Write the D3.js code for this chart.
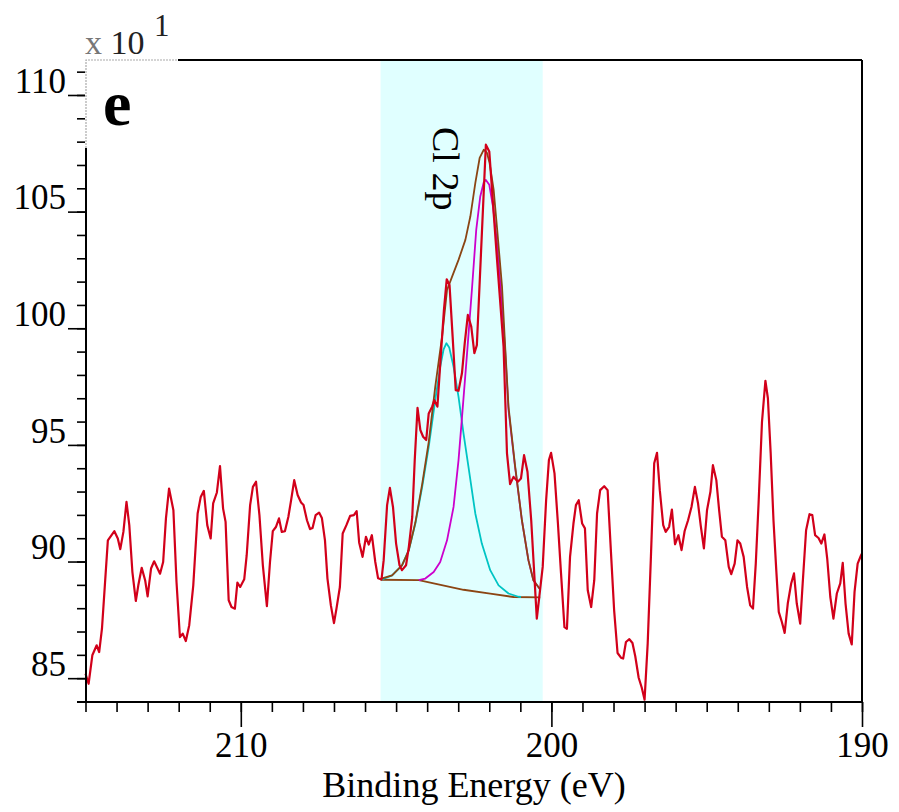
<!DOCTYPE html>
<html>
<head>
<meta charset="utf-8">
<script src="https://cdn.jsdelivr.net/npm/d3@7"></script>
<style>
  body { margin: 0; background: #fff; }
  svg { display: block; }
  text { font-family: "Liberation Serif", "Times New Roman", serif; }
</style>
</head>
<body>
<div id="chart"></div>
<script>
// measured spectrum (binding energy in eV, counts x 10)
const spectrumBE = [215.00,214.90,214.78,214.64,214.56,214.47,214.37,214.28,214.07,213.96,213.88,213.78,213.68,213.59,213.49,213.38,213.30,213.19,213.08,213.00,212.89,212.79,212.60,212.50,212.41,212.31,212.17,212.07,211.96,211.87,211.77,211.66,211.53,211.39,211.29,211.19,211.08,210.97,210.89,210.77,210.67,210.57,210.49,210.39,210.30,210.19,210.11,210.02,209.89,
  209.81,209.70,209.61,209.51,209.40,209.29,209.16,209.06,208.97,208.87,208.77,208.68,208.58,208.47,208.38,208.28,208.17,208.06,207.98,207.87,207.77,207.69,207.59,207.48,207.39,207.29,207.21,207.10,207.00,206.92,206.81,206.72,206.60,206.48,206.36,206.27,206.19,206.08,205.97,205.88,205.78,205.67,205.58,205.47,
  205.40,205.29,205.20,205.10,205.00,204.89,204.81,204.68,204.59,204.48,204.40,204.31,204.22,204.13,204.03,203.95,203.84,203.77,203.67,203.57,203.46,203.37,203.28,203.18,203.08,202.99,202.88,202.79,202.69,202.58,202.48,202.40,202.11,202.00,201.75,201.54,201.43,201.33,201.22,201.08,200.98,200.88,200.77,200.65,200.47,
  200.39,200.28,200.17,200.08,200.01,199.90,199.79,199.69,199.58,199.50,199.40,199.29,199.21,199.12,199.01,198.92,198.83,198.72,198.62,198.53,198.43,198.30,198.19,198.08,197.98,197.87,197.76,197.69,197.60,197.49,197.39,197.30,197.19,197.09,197.00,196.90,196.80,196.69,196.60,196.51,196.40,196.32,196.21,196.12,196.02,195.91,195.81,195.71,195.60,195.49,195.38,195.28,195.19,
  195.09,194.99,194.88,194.80,194.69,194.60,194.51,194.40,194.29,194.21,194.10,194.01,193.92,193.81,193.70,193.60,193.51,193.42,193.33,193.22,193.11,193.03,192.94,192.85,192.76,192.68,192.58,192.49,192.39,192.28,192.19,192.10,191.99,191.91,191.80,191.69,191.60,191.51,191.40,191.31,191.21,191.12,191.02,190.92,190.81,190.70,190.62,190.53,190.43,190.33,190.24,190.14,190.03,190.00];
const spectrumCounts = [85.19,84.76,85.98,86.41,86.12,87.12,89.12,90.91,91.30,90.99,90.53,91.27,92.56,91.56,89.55,88.31,88.98,89.73,89.20,88.51,89.70,90.01,89.48,89.98,91.85,93.13,92.20,89.12,86.76,86.91,86.59,87.27,88.98,92.06,92.77,93.03,91.56,90.99,92.49,92.96,94.09,92.27,91.70,88.34,88.05,87.98,89.10,88.91,89.24,
  90.27,92.42,93.20,93.42,91.99,89.84,88.09,89.98,91.30,91.48,91.85,91.27,91.30,91.91,92.63,93.49,92.85,92.53,92.42,91.77,91.39,91.44,91.99,92.10,91.87,90.91,89.27,88.12,87.36,87.98,88.91,91.20,91.56,91.96,91.99,92.16,90.82,90.20,91.06,90.73,91.13,89.98,89.28,89.23,
  90.06,92.42,93.16,92.34,90.77,89.84,89.63,89.84,90.63,91.91,94.35,96.59,95.64,95.35,95.21,96.35,96.64,96.92,96.64,98.64,100.79,102.10,101.86,99.64,97.35,97.32,98.07,99.36,100.57,100.07,98.93,99.28,107.87,107.58,102.93,99.21,94.64,93.32,93.63,93.42,93.56,94.56,93.85,91.77,87.55,
  88.48,89.77,92.63,94.35,94.66,93.78,91.63,89.49,87.19,87.12,90.20,91.63,92.42,92.63,91.63,91.42,88.77,88.05,89.20,92.06,93.06,93.23,93.06,90.34,87.91,86.08,85.88,85.84,86.55,86.67,86.51,85.94,85.02,84.59,84.08,86.48,90.06,94.21,94.66,93.06,91.56,91.27,91.49,92.23,90.74,91.13,90.49,91.31,91.77,92.34,93.20,92.50,91.52,
  90.56,92.20,92.99,94.13,93.49,92.20,91.06,90.91,89.77,89.46,89.91,90.91,90.77,90.20,88.91,88.12,87.98,89.91,92.49,95.99,97.75,97.00,94.64,91.77,89.63,87.84,87.41,86.94,88.20,89.06,89.49,88.20,87.34,89.06,91.34,92.03,91.99,91.13,91.01,90.77,91.16,90.13,88.48,87.55,88.63,89.06,89.94,88.20,86.91,86.45,88.70,89.91,90.27,90.35];

// fit: envelope, two Cl 2p components, background
const envelopeBE = [205.50,205.13,204.81,204.59,204.38,204.16,203.95,203.74,203.52,203.36,203.20,202.99,202.77,202.61,202.45,202.31,202.18,202.08,201.99,201.86,201.75,201.59,201.49,201.38,201.17,200.95,200.74,200.58,200.42,200.36];
const envelopeCounts = [89.26,89.41,89.84,90.49,91.67,93.32,95.12,97.49,99.64,101.64,102.20,102.93,103.79,104.79,106.22,107.30,107.65,107.54,107.08,105.94,104.30,101.79,99.24,96.62,94.11,91.77,90.06,89.20,88.91,88.80];

const peak1BE = [205.50,205.45,205.13,204.81,204.59,204.38,204.16,203.95,203.74,203.58,203.47,203.38,203.29,203.15,202.99,202.83,202.67,202.45,202.24,201.97,201.70,201.38,201.06,200.98];
const peak1Counts = [89.26,89.23,89.41,89.84,90.49,91.63,93.20,94.92,96.92,98.35,99.10,99.36,99.18,98.35,97.06,95.49,94.06,92.06,90.77,89.63,88.98,88.63,88.49,88.48];

const peak2BE = [204.27,204.06,203.79,203.58,203.36,203.15,202.99,202.86,202.72,202.56,202.42,202.29,202.18,202.11,202.00,201.88,201.75,201.62,201.49,201.38,201.17,200.95,200.74,200.58,200.42,200.36];
const peak2Counts = [89.20,89.27,89.55,89.98,90.91,92.34,94.35,96.49,98.85,101.64,104.22,105.65,106.25,106.36,106.15,105.22,103.65,101.50,99.07,96.49,94.06,91.77,90.06,89.20,88.91,88.80];

const backgroundBE = [205.50,204.27,203.68,202.83,201.97,201.22,200.36];
const backgroundCounts = [89.22,89.20,89.03,88.79,88.62,88.48,88.46];

const regionBE = [205.5, 200.28];   // shaded fit window
const xMajorTicks = [210, 200, 190];
const yMajorTicks = [85, 90, 95, 100, 105, 110];
const peakLabel = "Cl 2p";
const panelLetter = "e";
const xTitle = "Binding Energy (eV)";

const W = 899, H = 812;
const plotL = 86, plotR = 862, plotT = 60, plotB = 702;

const svg = d3.select("#chart").append("svg")
    .attr("width", W)
    .attr("height", H);

const x = d3.scaleLinear().domain([215, 190]).range([plotL - 0.5, plotR]);
const y = d3.scaleLinear().domain([84, 111.5]).range([plotB - 0.5, plotT]);

// shaded region
svg.append("rect")
    .attr("x", x(regionBE[0]))
    .attr("y", plotT)
    .attr("width", x(regionBE[1]) - x(regionBE[0]))
    .attr("height", plotB - plotT)
    .attr("fill", "#e0ffff");

function toPts(bes, cts) { return bes.map((b, i) => ({ x: b, y: cts[i] })); }
const line = d3.line().x(d => x(d.x)).y(d => y(d.y));

function addLine(bes, cts, color, w) {
    svg.append("path")
        .datum(toPts(bes, cts))
        .attr("fill", "none")
        .attr("stroke", color)
        .attr("stroke-width", w)
        .attr("stroke-linejoin", "round")
        .attr("d", line);
}

addLine(backgroundBE, backgroundCounts, "#8b4513", 1.8);
addLine(peak1BE, peak1Counts, "#00c4c4", 1.8);
addLine(peak2BE, peak2Counts, "#cc00cc", 1.8);
addLine(envelopeBE, envelopeCounts, "#8b4513", 1.8);
addLine(spectrumBE, spectrumCounts, "#d2001a", 2.2);

// axes: minor ticks every 1, major with labels
const xMinor = svg.append("g")
    .attr("transform", "translate(0," + plotB + ")")
    .call(d3.axisBottom(x).tickValues(d3.range(190, 216, 1)).tickSize(10).tickFormat(""));
const xMajor = svg.append("g")
    .attr("transform", "translate(0," + plotB + ")")
    .call(d3.axisBottom(x).tickValues(xMajorTicks).tickSize(25).tickPadding(5).tickFormat(d3.format("d")));

const yMinor = svg.append("g")
    .attr("transform", "translate(" + plotL + ",0)")
    .call(d3.axisLeft(y).tickValues(d3.range(84, 112, 1)).tickSize(9).tickFormat(""));
const yMajor = svg.append("g")
    .attr("transform", "translate(" + plotL + ",0)")
    .call(d3.axisLeft(y).tickValues(yMajorTicks).tickSize(18).tickPadding(2).tickFormat(d3.format("d")));

[xMinor, xMajor, yMinor, yMajor].forEach(g => {
    g.select(".domain").remove();
    g.selectAll("line").attr("stroke", "#000").attr("stroke-width", 1.6);
    g.selectAll("text")
        .attr("fill", "#000")
        .style("font-family", "'Liberation Serif', 'Times New Roman', serif")
        .style("font-size", "35px");
});
yMajor.selectAll("text").attr("dy", "-0.08em");

// frame
const frame = svg.append("g").attr("stroke", "#000").attr("stroke-width", 2);
frame.append("line").attr("x1", plotL - 9).attr("x2", plotR).attr("y1", plotB).attr("y2", plotB);
frame.append("line").attr("x1", plotL).attr("x2", plotL).attr("y1", plotT).attr("y2", plotB);
frame.append("line").attr("x1", plotR).attr("x2", plotR).attr("y1", plotT).attr("y2", plotB);
frame.append("line").attr("x1", plotL).attr("x2", plotR).attr("y1", plotT).attr("y2", plotT);

// panel letter box in the corner
svg.append("rect")
    .attr("x", plotL - 1).attr("y", plotT - 1)
    .attr("width", 93).attr("height", 89)
    .attr("fill", "#fff");
svg.append("path")
    .attr("d", `M${plotL},${plotT + 88} V${plotT} H${plotL + 92}`)
    .attr("fill", "none")
    .attr("stroke", "#aaa")
    .attr("stroke-width", 1.2)
    .attr("stroke-dasharray", "2,1");
svg.append("text")
    .attr("x", 103).attr("y", 125)
    .style("font-size", "64px")
    .style("font-weight", "bold")
    .text(panelLetter);

// exponent
const expo = svg.append("text").attr("x", 85).attr("y", 54).style("font-size", "34px");
expo.append("tspan").attr("fill", "#777").text("x ");
expo.append("tspan").attr("fill", "#222").text("10");
svg.append("text")
    .attr("x", 154).attr("y", 36)
    .attr("fill", "#222")
    .style("font-size", "31px")
    .text("1");

// peak label, rotated
svg.append("text")
    .attr("transform", "translate(433,127) rotate(90)")
    .style("font-size", "38px")
    .text(peakLabel);

// x axis title
svg.append("text")
    .attr("x", 474).attr("y", 797)
    .attr("text-anchor", "middle")
    .style("font-size", "36px")
    .text(xTitle);
</script>
</body>
</html>
